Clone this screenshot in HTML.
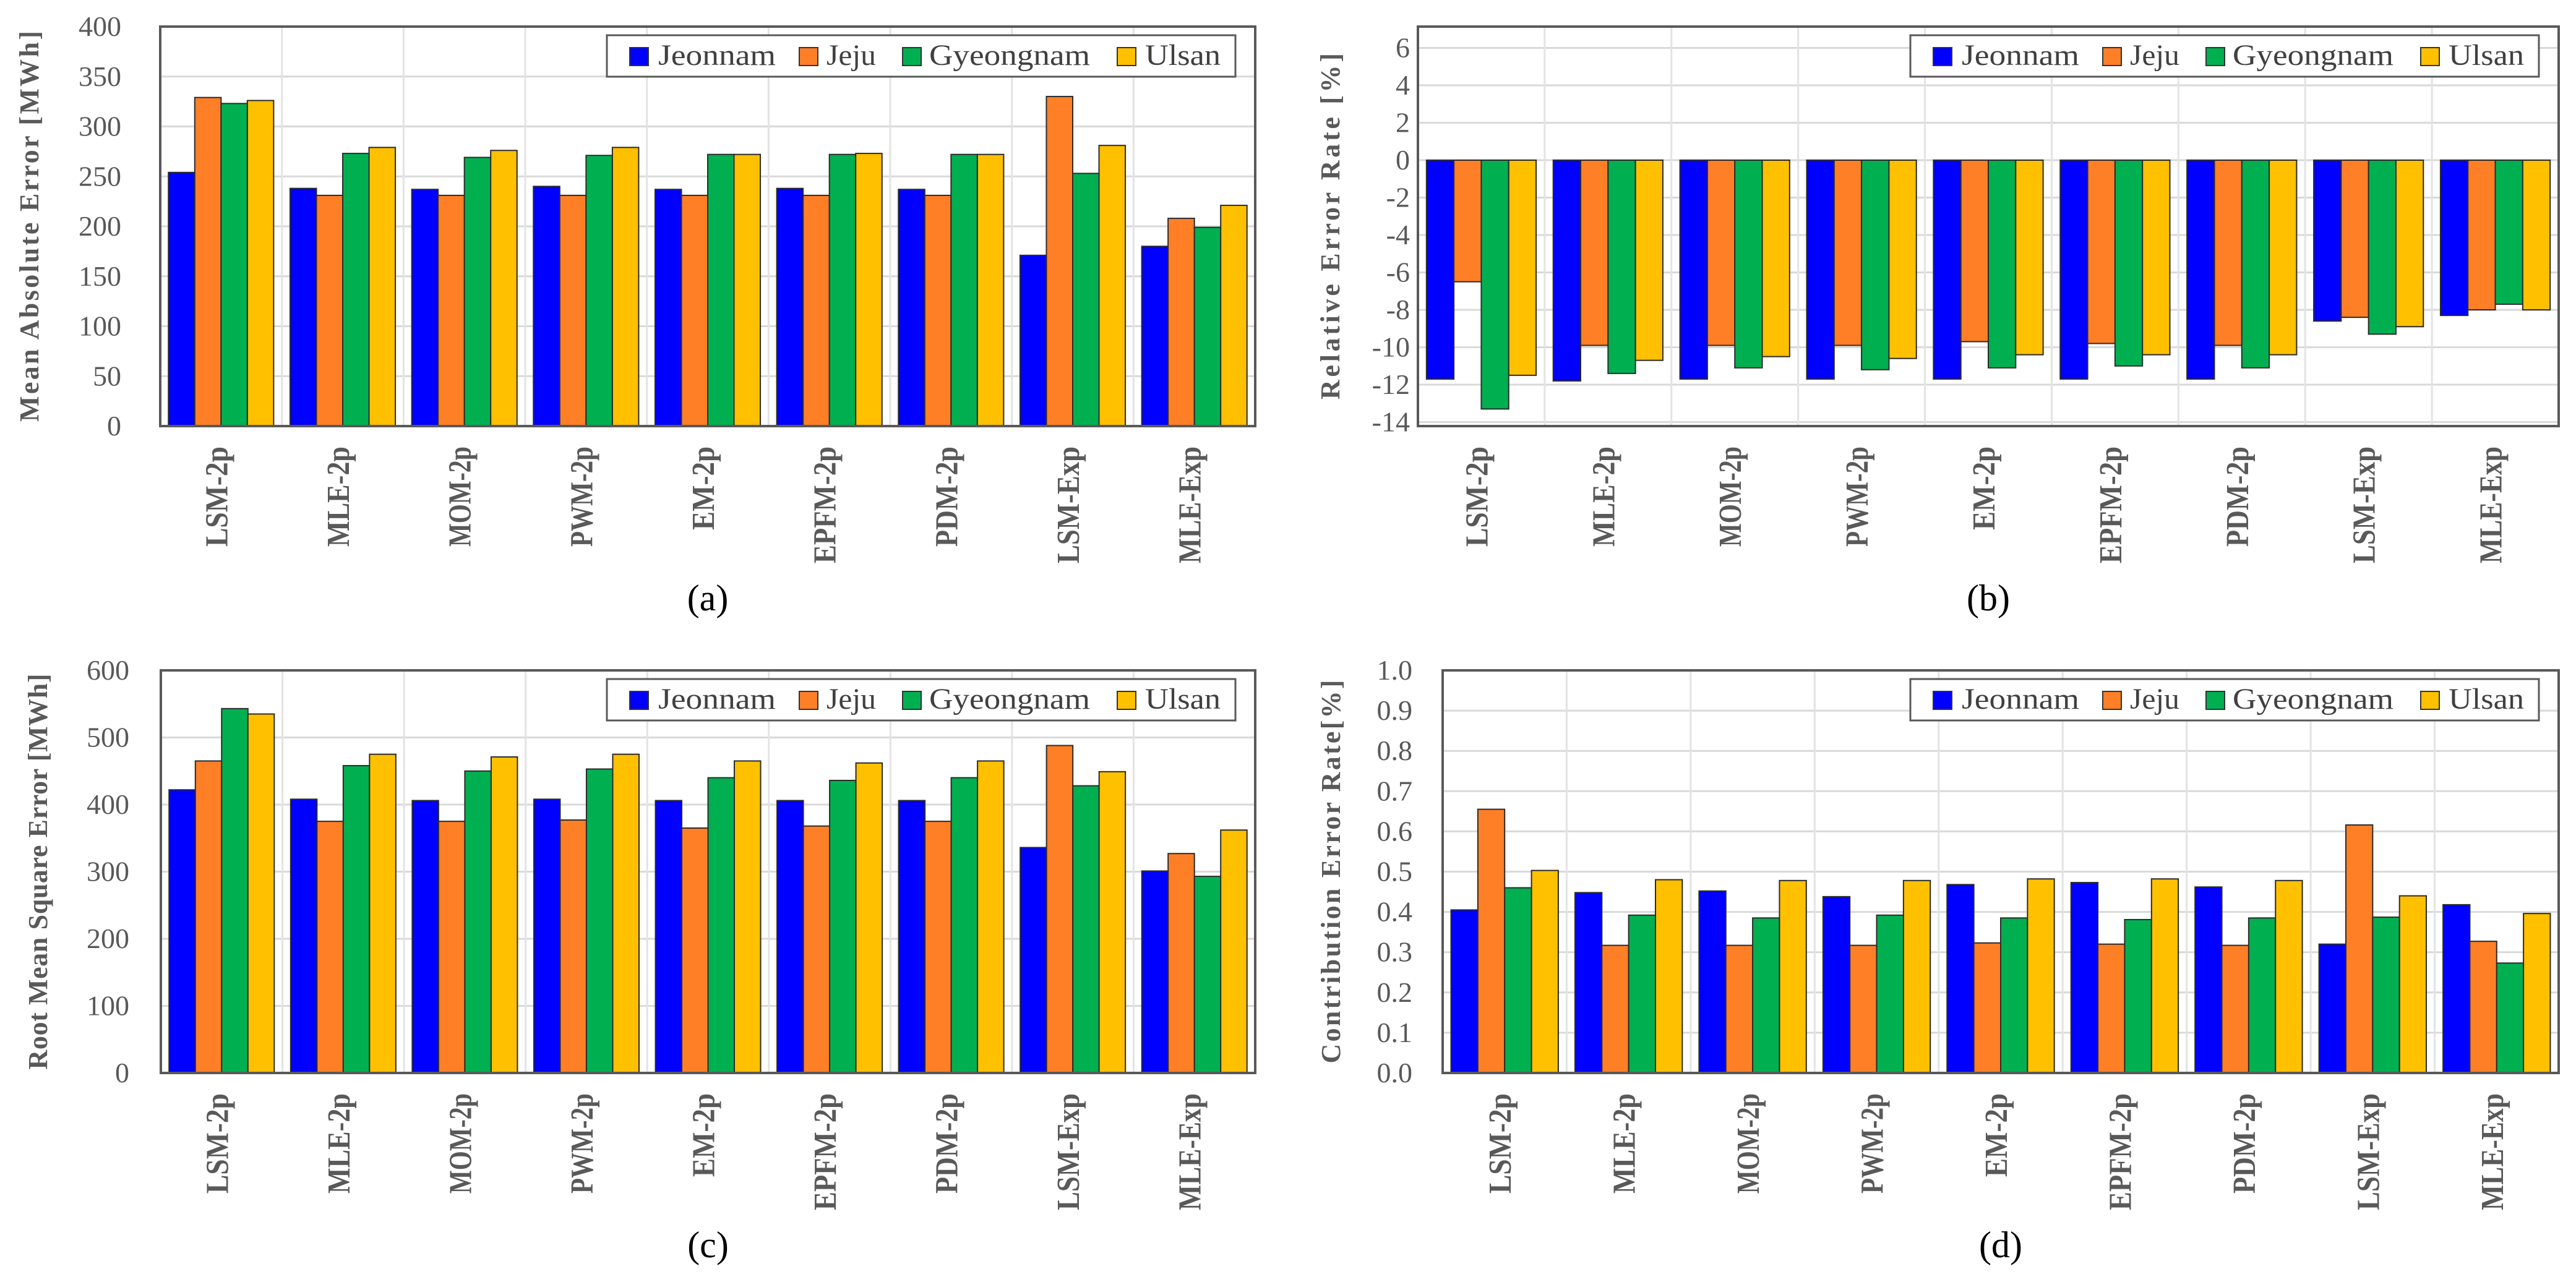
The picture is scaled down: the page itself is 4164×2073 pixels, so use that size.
<!DOCTYPE html>
<html><head><meta charset="utf-8"><style>
html,body{margin:0;padding:0;background:#fff;}
svg{display:block;}
svg text{font-family:"Liberation Serif",serif;}
</style></head><body>
<svg id="fig" width="4164" height="2073" viewBox="0 0 4164 2073" xmlns="http://www.w3.org/2000/svg" font-family="Liberation Serif, serif"></svg>
<script>
const categories = ["LSM-2p","MLE-2p","MOM-2p","PWM-2p","EM-2p","EPFM-2p","PDM-2p","LSM-Exp","MLE-Exp"];
const seriesNames = ["Jeonnam","Jeju","Gyeongnam","Ulsan"];
const seriesColors = ["#0000ff","#ff7f27","#00b050","#ffc000"];

const maeJeonnam = [254,238,237,240,237,238,237,171,180];
const maeJeju = [329,231,231,231,231,231,231,330,208];
const maeGyeongnam = [323,273,269,271,272,272,272,253,199];
const maeUlsan = [326,279,276,279,272,273,272,281,221];

const rerJeonnam = [-11.7,-11.8,-11.7,-11.7,-11.7,-11.7,-11.7,-8.6,-8.3];
const rerJeju = [-6.5,-9.9,-9.9,-9.9,-9.7,-9.8,-9.9,-8.4,-8.0];
const rerGyeongnam = [-13.3,-11.4,-11.1,-11.2,-11.1,-11.0,-11.1,-9.3,-7.7];
const rerUlsan = [-11.5,-10.7,-10.5,-10.6,-10.4,-10.4,-10.4,-8.9,-8.0];

const rmseJeonnam = [422,408,406,408,406,406,406,336,301];
const rmseJeju = [465,375,375,377,365,368,375,488,327];
const rmseGyeongnam = [543,458,450,453,440,436,440,428,293];
const rmseUlsan = [535,475,471,475,465,462,465,449,362];

const cerJeonnam = [0.405,0.448,0.452,0.438,0.468,0.473,0.462,0.320,0.418];
const cerJeju = [0.655,0.317,0.317,0.317,0.323,0.320,0.317,0.616,0.327];
const cerGyeongnam = [0.460,0.392,0.385,0.392,0.385,0.381,0.385,0.387,0.273];
const cerUlsan = [0.503,0.480,0.478,0.478,0.482,0.482,0.478,0.440,0.396];

const maeTicks = ["0","50","100","150","200","250","300","350","400"];
const rerTicks = ["-14","-12","-10","-8","-6","-4","-2","0","2","4","6"];
const rmseTicks = ["0","100","200","300","400","500","600"];
const cerTicks = ["0.0","0.1","0.2","0.3","0.4","0.5","0.6","0.7","0.8","0.9","1.0"];

const NS = "http://www.w3.org/2000/svg";
const FONT = '"Liberation Serif", serif';
const fig = document.getElementById("fig");
function mk(tag, attrs, parent){
  const e = document.createElementNS(NS, tag);
  for (const k in attrs) e.setAttribute(k, attrs[k]);
  if (tag === "text") e.style.fontFamily = FONT;
  (parent||fig).appendChild(e);
  return e;
}

function drawPanel(p){
  const g = mk("g", {});
  
  
  const x0=p.x0, x1=p.x1, yT=p.yT, yB=p.yB;
  const yScale = v => p.yAt(v);
  const catW = (x1-x0)/categories.length;
  p.ticks.forEach(t=>{
    const v=parseFloat(t), y=yScale(v);
    if (y>yT+2 && y<yB-2){
      const l=mk("line",{x1:x0,x2:x1,y1:y,y2:y,stroke:"#d9d9d9","stroke-width":3},g);
      
      
    }
    const tl=mk("text",{x:p.tickX,y:y+15,"text-anchor":"end","font-size":46,fill:"#595959"},g);
    tl.textContent=t;
    
    
  });
  for(let i=1;i<categories.length;i++){
    const x=x0+i*catW;
    const l=mk("line",{x1:x,x2:x,y1:yT,y2:yB,stroke:"#e3e3e3","stroke-width":3},g);
    
    
  }
  const groupW = catW*0.865, barW = groupW/4;
  const base = yScale(0);
  categories.forEach((c,i)=>{
    const gx = x0+i*catW+(catW-groupW)/2;
    p.series.forEach((arr,s)=>{
      const v=arr[i], y=yScale(v);
      const r=mk("rect",{x:gx+s*barW,y:Math.min(y,base),width:barW,height:Math.abs(base-y),fill:seriesColors[s],stroke:"#2b2b2b","stroke-width":2},g);
      
      
    });
    const cx = x0+(i+0.5)*catW+10;
    const lt=mk("text",{x:0,y:0,transform:`translate(${cx},${yB+33}) rotate(-90)`,"text-anchor":"end","font-size":52,"font-weight":"bold",fill:"#595959",textLength:c.length*27,lengthAdjust:"spacingAndGlyphs"},g);
    lt.textContent=c;
    
    
  });
  const fr=mk("rect",{x:x0,y:yT,width:x1-x0,height:yB-yT,fill:"none",stroke:"#595959","stroke-width":4},g);
  
  
  const ycen=(yT+yB)/2;
  const at=mk("text",{x:0,y:0,transform:`translate(${p.titleX},${ycen}) rotate(-90)`,"text-anchor":"middle","font-size":44,"font-weight":"bold",fill:"#595959",textLength:p.titleLen,lengthAdjust:"spacing"},g);
  at.textContent=p.title;
  
  
  const lr=x1-32, ll=lr-1016, lt2=yT+14, lb=lt2+67;
  const lg=mk("g",{},g);
  
  
  const lbx=mk("rect",{x:ll,y:lt2,width:lr-ll,height:lb-lt2,fill:"#fff",stroke:"#595959","stroke-width":3},lg);
  
  
  const swX=[37,311,478,825], txX=[83,355,521,870], txL=[190,80,260,122];
  seriesNames.forEach((n,s)=>{
    const e=mk("g",{},lg);
    
    
    mk("rect",{x:ll+swX[s],y:lt2+20,width:30,height:29,fill:seriesColors[s],stroke:"#333","stroke-width":2},e);
    const t=mk("text",{x:ll+txX[s],y:lt2+48,"font-size":48,fill:"#404040",textLength:txL[s],lengthAdjust:"spacingAndGlyphs"},e);
    t.textContent=n;
  });
  const cap=mk("text",{x:(x0+x1)/2,y:yB+298,"text-anchor":"middle","font-size":60,fill:"#000"},g);
  cap.textContent=p.caption;
  
  
}

drawPanel({id:"mae",x0:259,x1:2029,yT:43,yB:689,yAt:v=>689-v*646/400,ticks:maeTicks,
  series:[maeJeonnam,maeJeju,maeGyeongnam,maeUlsan],tickX:196,titleX:62,title:"Mean Absolute Error [MWh]",titleLen:632,caption:"(a)"});
drawPanel({id:"rer",x0:2292,x1:4136,yT:43,yB:689,yAt:v=>259-v*30.25,ticks:rerTicks,
  series:[rerJeonnam,rerJeju,rerGyeongnam,rerUlsan],tickX:2279,titleX:2165,title:"Relative Error Rate [%]",titleLen:560,caption:"(b)"});
drawPanel({id:"rmse",x0:260,x1:2029,yT:1084,yB:1735,yAt:v=>1735-v*651/600,ticks:rmseTicks,
  series:[rmseJeonnam,rmseJeju,rmseGyeongnam,rmseUlsan],tickX:209,titleX:76,title:"Root Mean Square Error [MWh]",titleLen:640,caption:"(c)"});
drawPanel({id:"cer",x0:2332,x1:4136,yT:1084,yB:1735,yAt:v=>1735-v*651,ticks:cerTicks,
  series:[cerJeonnam,cerJeju,cerGyeongnam,cerUlsan],tickX:2283,titleX:2166,title:"Contribution Error Rate[%]",titleLen:620,caption:"(d)"});
</script>
</body></html>
